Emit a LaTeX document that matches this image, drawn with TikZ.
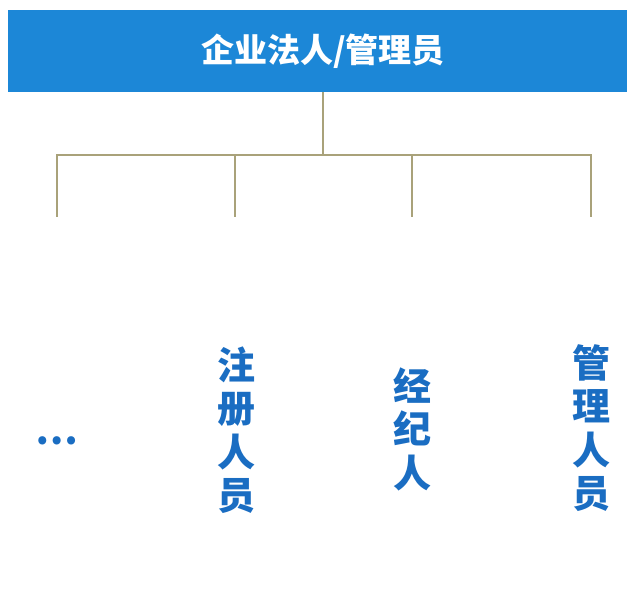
\documentclass[tikz,border=0pt]{standalone}
\usepackage{fontspec}
\newfontfamily\cjk{Noto Sans CJK SC}
\usepackage{xcolor}
\usetikzlibrary{calc}
\definecolor{banner}{HTML}{1C87D7}
\definecolor{label}{HTML}{1A6DC2}
\definecolor{branch}{HTML}{A9A27A}
\tikzset{
  role/.style={text=label,align=center,inner sep=0pt,
    font=\cjk\bfseries\fontsize{38}{43.5}\selectfont},
  wire/.style={color=branch,line width=1.5pt}
}

\begin{document}
\begin{tikzpicture}[x=1pt,y=-1pt]
  \useasboundingbox (0,0) rectangle (627,596);
  % top banner
  \node[fill=banner,text=white,minimum width=630pt,minimum height=82pt,inner sep=0pt,
    font=\cjk\bfseries\fontsize{33}{33}\selectfont] (title) at (323,51) {企业法人/管理员};
  % roles
  \node[role] (more) at (57,441) {…};
  \node[role] (reg) at (236,430) {注\\册\\人\\员};
  \node[role] (agent) at (412,429) {经\\纪\\人};
  \node[role] (admin) at (591,428) {管\\理\\人\\员};
  % branches
  \coordinate (bus) at (323,155);
  \draw[wire] (title.south) -- (bus);
  \foreach \x/\n in {57/1,235/2,412/3,591/4}{
    \coordinate (top\n) at (\x,155);
    \coordinate (end\n) at (\x,217);
  }
  \draw[wire] (end1) -- (top1) -- (top4) -- (end4);
  \draw[wire] (top2) -- (end2);
  \draw[wire] (top3) -- (end3);
\end{tikzpicture}
\end{document}
